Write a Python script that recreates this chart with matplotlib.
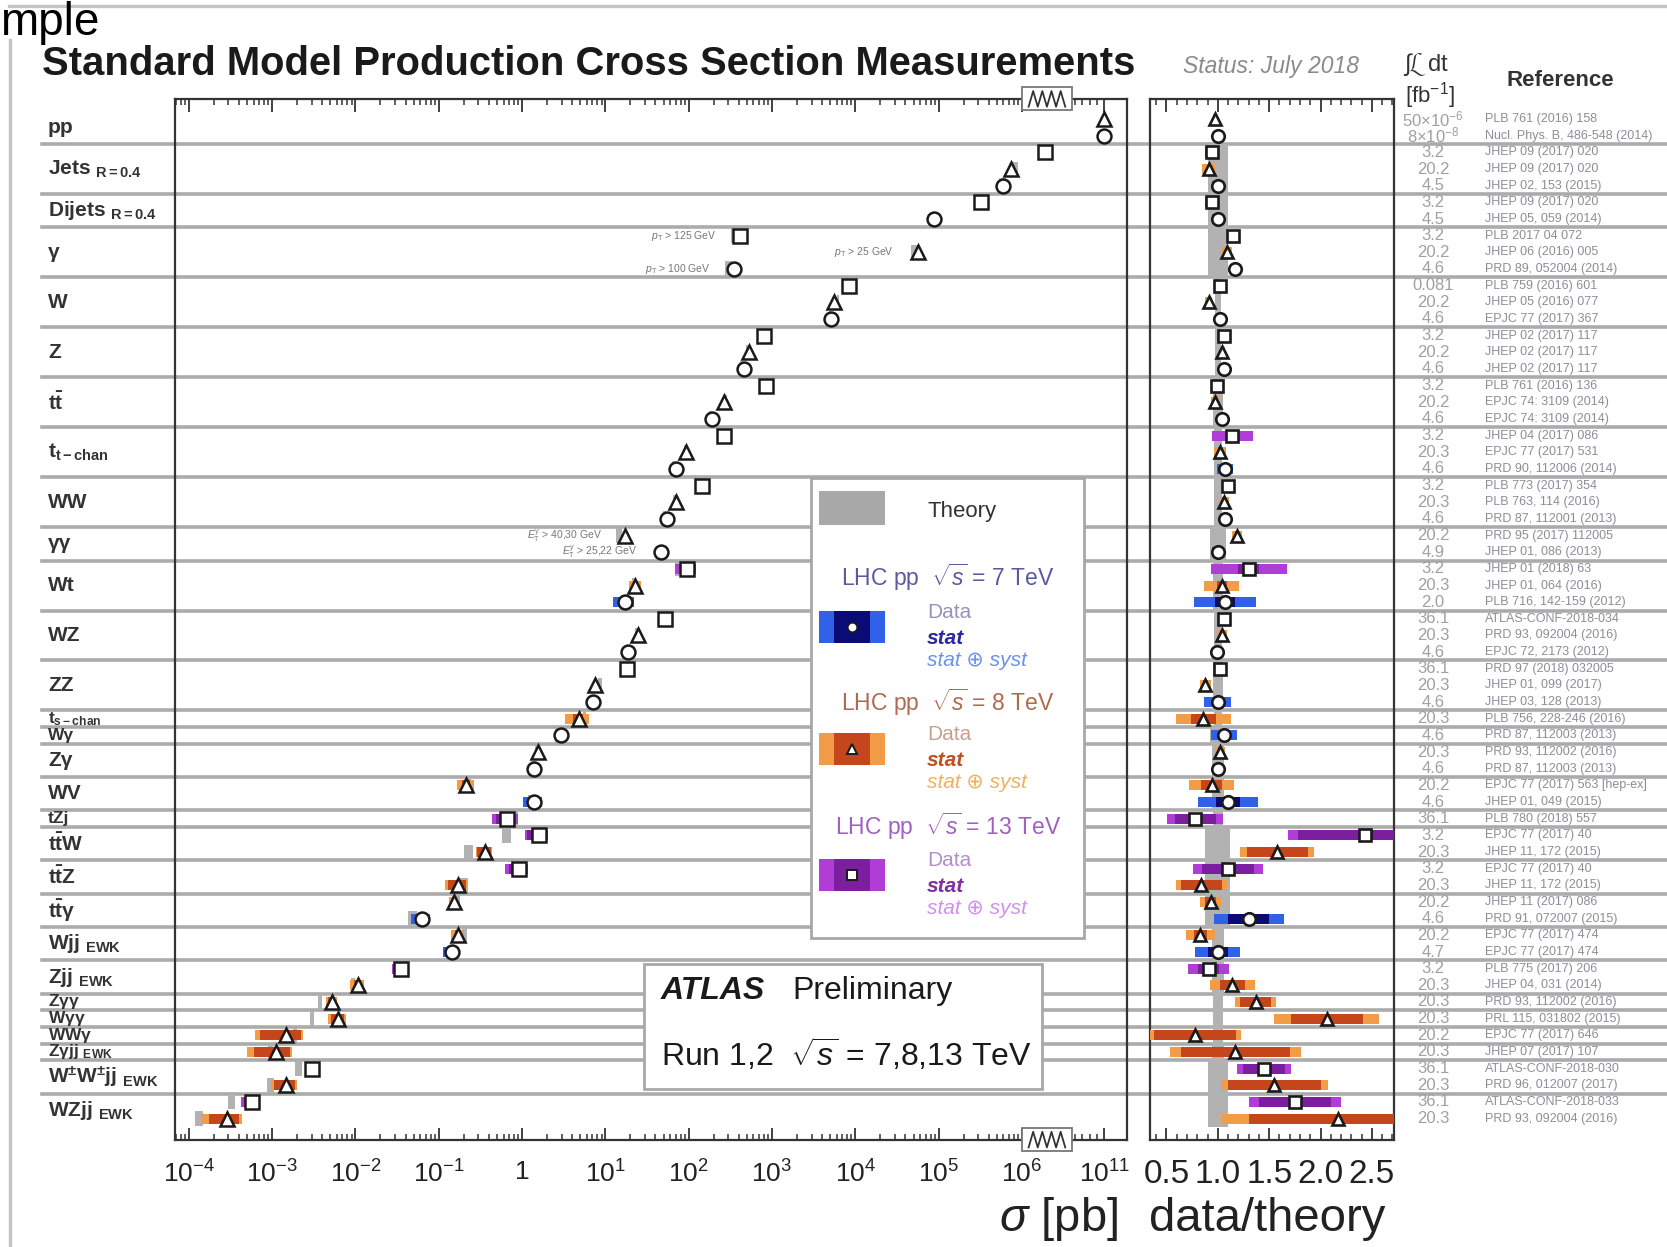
import numpy as np
import matplotlib
matplotlib.use('Agg')
import matplotlib.pyplot as plt
import matplotlib.transforms as mtrans
from matplotlib.patches import Rectangle
from matplotlib.lines import Line2D
from matplotlib.ticker import FixedLocator, FixedFormatter, MultipleLocator, FormatStrFormatter

plt.rcParams['font.family'] = ['Liberation Sans', 'DejaVu Sans']
plt.rcParams['mathtext.fontset'] = 'custom'
plt.rcParams['mathtext.rm'] = 'Liberation Sans'
plt.rcParams['mathtext.it'] = 'Liberation Sans:italic'
plt.rcParams['mathtext.bf'] = 'Liberation Sans:bold'

# processes, top to bottom, and number of measurements per process
processes = ['pp', r'Jets $_{\mathregular{R=0.4}}$', r'Dijets $_{\mathregular{R=0.4}}$', 'γ', 'W', 'Z',
             r'$\mathbf{t\bar{t}}$', r'$\mathbf{t_{t-chan}}$', 'WW', 'γγ', 'Wt', 'WZ', 'ZZ',
             r'$\mathbf{t_{s-chan}}$', 'Wγ', 'Zγ', 'WV', 'tZj', r'$\mathbf{t\bar{t}W}$',
             r'$\mathbf{t\bar{t}Z}$', r'$\mathbf{t\bar{t}\gamma}$', r'$\mathbf{Wjj}$ $_{\mathbf{EWK}}$',
             r'$\mathbf{Zjj}$ $_{\mathbf{EWK}}$', r'$\mathbf{Z\gamma\gamma}$', r'$\mathbf{W\gamma\gamma}$',
             r'$\mathbf{WW\gamma}$', r'$\mathbf{Z\gamma jj}$ $_{\mathbf{EWK}}$',
             r'$\mathbf{W^{\pm}W^{\pm}jj}$ $_{\mathbf{EWK}}$', r'$\mathbf{WZjj}$ $_{\mathbf{EWK}}$']
n_meas = [2, 3, 2, 3, 3, 3, 3, 3, 3, 2, 3, 3, 3, 1, 1, 2, 2, 1, 2, 2, 2, 2, 2, 1, 1, 1, 1, 2, 2]

# one entry per measurement: sqrt(s) in TeV, sigma in pb, data/theory and uncertainties
energy = [8, 7, 13, 8, 7, 13, 7, 13, 8, 7, 13, 8, 7, 13, 8, 7, 13, 8, 7, 13, 8, 7,
          13, 8, 7, 8, 7, 13, 8, 7, 13, 8, 7, 13, 8, 7, 8, 7, 8, 7, 8, 7, 13, 13, 8,
          13, 8, 8, 7, 8, 7, 13, 8, 8, 8, 8, 8, 13, 8, 13, 8]
xsec = [9.6e10, 9.5e10, 1.9e6, 7.4e5, 5.9e5, 3.2e5, 8.9e4, 410, 5.6e4, 355,
        8.5e3, 5.6e3, 5.1e3, 810, 525, 457, 850, 263, 190, 263, 93, 71,
        145, 71, 55, 17.4, 46, 95, 23, 17.4, 52, 24.5, 18.6, 18.2, 7.6, 7.1,
        4.8, 2.9, 1.55, 1.38, 0.214, 1.38, 0.66, 1.58, 0.36, 0.91, 0.17,
        0.151, 0.063, 0.17, 0.145, 0.0355, 0.0107, 0.0052, 0.0062, 0.00148,
        0.00112, 0.0030, 0.00148, 0.00057, 0.00029]
ratio = [0.97, 1.00, 0.94, 0.91, 1.00, 0.94, 1.00, 1.15, 1.09, 1.17,
         1.02, 0.91, 1.02, 1.06, 1.04, 1.06, 0.99, 0.97, 1.04, 1.14, 1.02, 1.07,
         1.10, 1.06, 1.07, 1.19, 1.00, 1.30, 1.04, 1.07, 1.06, 1.04, 0.99, 1.02, 0.88, 1.00,
         0.86, 1.06, 1.02, 1.00, 0.94, 1.10, 0.78, 2.43, 1.58, 1.10, 0.84,
         0.93, 1.30, 0.83, 1.00, 0.91, 1.14, 1.37, 2.06, 0.78,
         1.17, 1.45, 1.55, 1.75, 2.17]
err_tot = [0.02, 0.02, 0.06, 0.06, 0.06, 0.06, 0.06, 0.05, 0.05, 0.05,
           0.03, 0.03, 0.03, 0.03, 0.03, 0.03, 0.04, 0.04, 0.04, 0.20, 0.06, 0.08,
           0.05, 0.05, 0.05, 0.05, 0.06, 0.37, 0.17, 0.30, 0.05, 0.05, 0.05, 0.05, 0.05, 0.13,
           0.27, 0.13, 0.05, 0.05, 0.22, 0.29, 0.27, 0.75, 0.36, 0.34, 0.25,
           0.10, 0.34, 0.14, 0.22, 0.20, 0.22, 0.20, 0.51, 0.45,
           0.64, 0.26, 0.52, 0.45, 1.13]
err_stat = [0.01, 0.01, 0.01, 0.01, 0.01, 0.01, 0.01, 0.01, 0.01, 0.01,
            0.01, 0.01, 0.01, 0.01, 0.01, 0.01, 0.01, 0.01, 0.01, 0.06, 0.02, 0.03,
            0.02, 0.02, 0.02, 0.02, 0.02, 0.10, 0.05, 0.10, 0.02, 0.02, 0.02, 0.02, 0.02, 0.05,
            0.12, 0.05, 0.02, 0.02, 0.10, 0.12, 0.20, 0.65, 0.30, 0.25, 0.20,
            0.05, 0.20, 0.06, 0.10, 0.10, 0.12, 0.15, 0.35, 0.40,
            0.53, 0.20, 0.45, 0.35, 0.87]
err_theory = [0.0, 0.0, 0.10, 0.10, 0.10, 0.10, 0.10, 0.10, 0.10, 0.10,
              0.03, 0.03, 0.03, 0.03, 0.03, 0.03, 0.05, 0.05, 0.05, 0.04, 0.04, 0.04,
              0.04, 0.04, 0.04, 0.08, 0.08, 0.05, 0.05, 0.05, 0.04, 0.04, 0.04, 0.05, 0.05, 0.05,
              0.04, 0.08, 0.06, 0.06, 0.06, 0.06, 0.05, 0.12, 0.12, 0.12, 0.12,
              0.12, 0.12, 0.06, 0.06, 0.06, 0.06, 0.05, 0.05, 0.05,
              0.06, 0.10, 0.10, 0.10, 0.10]
lumi = [r'50$\times$10$^{-6}$', r'8$\times$10$^{-8}$', '3.2', '20.2', '4.5', '3.2', '4.5',
        '3.2', '20.2', '4.6', '0.081', '20.2', '4.6', '3.2', '20.2', '4.6', '3.2', '20.2', '4.6',
        '3.2', '20.3', '4.6', '3.2', '20.3', '4.6', '20.2', '4.9', '3.2', '20.3', '2.0',
        '36.1', '20.3', '4.6', '36.1', '20.3', '4.6', '20.3', '4.6', '20.3', '4.6', '20.2', '4.6',
        '36.1', '3.2', '20.3', '3.2', '20.3', '20.2', '4.6', '20.2', '4.7', '3.2', '20.3',
        '20.3', '20.3', '20.2', '20.3', '36.1', '20.3', '36.1', '20.3']
refs = ['PLB 761 (2016) 158', 'Nucl. Phys. B, 486-548 (2014)', 'JHEP 09 (2017) 020',
        'JHEP 09 (2017) 020', 'JHEP 02, 153 (2015)', 'JHEP 09 (2017) 020', 'JHEP 05, 059 (2014)',
        'PLB 2017 04 072', 'JHEP 06 (2016) 005', 'PRD 89, 052004 (2014)', 'PLB 759 (2016) 601',
        'JHEP 05 (2016) 077', 'EPJC 77 (2017) 367', 'JHEP 02 (2017) 117', 'JHEP 02 (2017) 117',
        'JHEP 02 (2017) 117', 'PLB 761 (2016) 136', 'EPJC 74: 3109 (2014)', 'EPJC 74: 3109 (2014)',
        'JHEP 04 (2017) 086', 'EPJC 77 (2017) 531', 'PRD 90, 112006 (2014)', 'PLB 773 (2017) 354',
        'PLB 763, 114 (2016)', 'PRD 87, 112001 (2013)', 'PRD 95 (2017) 112005', 'JHEP 01, 086 (2013)',
        'JHEP 01 (2018) 63', 'JHEP 01, 064 (2016)', 'PLB 716, 142-159 (2012)', 'ATLAS-CONF-2018-034',
        'PRD 93, 092004 (2016)', 'EPJC 72, 2173 (2012)', 'PRD 97 (2018) 032005', 'JHEP 01, 099 (2017)',
        'JHEP 03, 128 (2013)', 'PLB 756, 228-246 (2016)', 'PRD 87, 112003 (2013)',
        'PRD 93, 112002 (2016)', 'PRD 87, 112003 (2013)', 'EPJC 77 (2017) 563 [hep-ex]',
        'JHEP 01, 049 (2015)', 'PLB 780 (2018) 557', 'EPJC 77 (2017) 40', 'JHEP 11, 172 (2015)',
        'EPJC 77 (2017) 40', 'JHEP 11, 172 (2015)', 'JHEP 11 (2017) 086', 'PRD 91, 072007 (2015)',
        'EPJC 77 (2017) 474', 'EPJC 77 (2017) 474', 'PLB 775 (2017) 206', 'JHEP 04, 031 (2014)',
        'PRD 93, 112002 (2016)', 'PRL 115, 031802 (2015)', 'EPJC 77 (2017) 646', 'JHEP 07 (2017) 107',
        'ATLAS-CONF-2018-030', 'PRD 96, 012007 (2017)', 'ATLAS-CONF-2018-033', 'PRD 93, 092004 (2016)']

# phase-space notes written next to some points: (row, text)
cut_notes = [(7, r'$p_{\mathregular{T}}$ > 125 GeV'), (8, r'$p_{\mathregular{T}}$ > 25 GeV'),
             (9, r'$p_{\mathregular{T}}$ > 100 GeV'),
             (25, r'$E_{\mathregular{T}}^{\gamma}$ > 40,30 GeV'), (26, r'$E_{\mathregular{T}}^{\gamma}$ > 25,22 GeV')]

markers = {13: 's', 8: '^', 7: 'o'}
col_tot = {13: '#b03ed6', 8: '#f29c48', 7: '#2f62e8'}
col_stat = {13: '#7c1f9e', 8: '#c4461a', 7: '#0b0b78'}
theory_col = '#b2b2b2'

W, H = 1667, 1247
fig = plt.figure(figsize=(W / 100, H / 100), dpi=100)


def fx(px):
    return px / W


def fy(py):
    return 1 - py / H


ax = fig.add_axes([fx(175.4), fy(1139.6), fx(1126.9) - fx(175.4), fy(98.9) - fy(1139.6)])
rax = fig.add_axes([fx(1150), fy(1139.6), fx(1394) - fx(1150), fy(98.9) - fy(1139.6)])
for a in (ax, rax):
    a.patch.set_facecolor('none')
    for sp in a.spines.values():
        sp.set_color('#333333')
        sp.set_linewidth(1.6)
    a.set_yticks([])
    a.set_ylim(61.26, -1.21)

# log axis with the range above ~4e6 pb squeezed behind a break
BRK, SQZ = 6.6, 0.0886


def fwd(x):
    l = np.log10(np.clip(np.asarray(x, float), 1e-30, None))
    return np.where(l <= BRK, l, BRK + (l - BRK) * SQZ)


def inv(u):
    u = np.asarray(u, float)
    l = np.where(u <= BRK, u, BRK + (u - BRK) / SQZ)
    return 10.0 ** np.clip(l, -30, 30)


ax.set_xscale('function', functions=(fwd, inv))
ax.set_xlim(float(inv(-4.16)), float(inv(7.26)))
rax.set_xlim(0.34, 2.715)

major = [10.0 ** k for k in range(-4, 7)] + [1e11]
major_lbl = [r'10$^{\mathregular{%d}}$' % k for k in range(-4, 0)] + ['1'] + \
            [r'10$^{\mathregular{%d}}$' % k for k in range(1, 7)] + [r'10$^{\mathregular{11}}$']
minor = [m * 10.0 ** k for k in range(-5, 7) for m in range(2, 10) if np.log10(m * 10.0 ** k) < BRK]
minor += [1e7, 1e8, 1e9, 1e10]
ax.xaxis.set_major_locator(FixedLocator(major))
ax.xaxis.set_major_formatter(FixedFormatter(major_lbl))
ax.xaxis.set_minor_locator(FixedLocator(minor))
ax.xaxis.set_minor_formatter(FixedFormatter([''] * len(minor)))
ax.tick_params(axis='x', which='both', direction='in', top=True, bottom=True, colors='#333333',
               labelcolor='#222222', labelsize=19, pad=15)
ax.tick_params(axis='x', which='major', length=9, width=1.3)
ax.tick_params(axis='x', which='minor', length=4.5, width=1.1)

rax.xaxis.set_major_locator(MultipleLocator(0.5))
rax.xaxis.set_minor_locator(MultipleLocator(0.1))
rax.xaxis.set_major_formatter(FormatStrFormatter('%.1f'))
rax.tick_params(axis='x', which='both', direction='in', top=True, bottom=True, colors='#333333',
                labelcolor='#222222', labelsize=24, pad=14)
rax.tick_params(axis='x', which='major', length=9, width=1.3)
rax.tick_params(axis='x', which='minor', length=4.5, width=1.1)

# axis break marks on top and bottom of the cross-section axis
brk_tf = mtrans.blended_transform_factory(ax.transData, ax.transAxes)
for ya in (0.0, 1.0):
    ax.add_patch(Rectangle((1e6, ya - 0.011), 10 ** 6.6 - 1e6, 0.022, transform=brk_tf,
                           facecolor='white', edgecolor='#777777', lw=1.3, clip_on=False, zorder=8))
    zz = 10 ** np.linspace(6.08, 6.52, 9)
    ax.add_line(Line2D(zz, ya + 0.0075 * np.array([-1, 1, -1, 1, -1, 1, -1, 1, -1]), transform=brk_tf,
                       color='#333333', lw=1.3, clip_on=False, zorder=9))

# measurements
for i, e in enumerate(energy):
    s, r, et, es, dt = xsec[i], ratio[i], err_tot[i], err_stat[i], err_theory[i]
    th = s / r
    if dt > 0:
        ax.add_patch(Rectangle((th * (1 - dt), i - 0.45), th * 2 * dt, 0.9, color=theory_col, lw=0, zorder=2))
        rax.add_patch(Rectangle((1 - dt, i - 0.5), 2 * dt, 1.0, color=theory_col, lw=0, zorder=2))
    lo, hi = s * (1 - et / r), s * (1 + et / r)
    ax.barh(i, hi - lo, left=lo, height=0.6, color=col_tot[e], lw=0, zorder=3)
    lo, hi = s * (1 - es / r), s * (1 + es / r)
    ax.barh(i, hi - lo, left=lo, height=0.6, color=col_stat[e], lw=0, zorder=3)
    ax.plot([s], [i], marker=markers[e], ms=10, mfc='white', mec='#1a1a1a',
            mew=1.8, ls='none', zorder=5)
    rax.barh(i, 2 * et, left=r - et, height=0.6, color=col_tot[e], lw=0, zorder=3)
    rax.barh(i, 2 * es, left=r - es, height=0.6, color=col_stat[e], lw=0, zorder=3)
    rax.plot([r], [i], marker=markers[e], ms=9, mfc='white', mec='#1a1a1a',
             mew=1.9, ls='none', zorder=5, clip_on=True)

for i, txt in cut_notes:
    ax.annotate(txt, xy=(xsec[i], i), xytext=(-17, 0), textcoords='offset points', ha='right',
                va='center', fontsize=7.5, color='#777777')

# separators, process names, luminosities and references
row_tf = mtrans.blended_transform_factory(fig.transFigure, ax.transData)
ends = np.cumsum(n_meas)
starts = ends - np.array(n_meas)
for k in ends[:-1]:
    fig.add_artist(Line2D([fx(42), 1.0], [k - 0.5, k - 0.5], transform=row_tf, color='#ababab',
                          lw=2.6, zorder=-1))
for name, a, b in zip(processes, starts, ends):
    # single-measurement bands are narrow, so their names are set a little smaller
    fs = 15 if b - a > 1 else 12.5
    fig.text(fx(48), (a + b - 1) / 2, name, transform=row_tf, fontsize=fs, fontweight='bold',
             color='#333333', ha='left', va='center')
for i in range(len(energy)):
    fig.text(fx(1433), i, lumi[i], transform=row_tf, fontsize=12, color='#a0a0a0', ha='center', va='center')
    fig.text(fx(1485), i, refs[i], transform=row_tf, fontsize=9, color='#8d8d9a', ha='left', va='center')

# header texts
fig.text(0, fy(35), 'mple', fontsize=33, ha='left', va='baseline', color='black')
fig.add_artist(Line2D([fx(9), 1.0], [fy(6), fy(6)], transform=fig.transFigure, color='#c4c4c4', lw=2.4))
fig.add_artist(Line2D([fx(10), fx(10)], [fy(40), 0], transform=fig.transFigure, color='#c4c4c4', lw=2.4))
fig.text(fx(42), fy(64), 'Standard Model Production Cross Section Measurements', fontsize=28.8,
         fontweight='bold', color='#1a1a1a', ha='left', va='center')
fig.text(fx(1183), fy(66), 'Status: July 2018', fontsize=16.5, fontstyle='italic', color='#8a8a8a',
         ha='left', va='center')
fig.text(fx(1403), fy(64), r'$\int\mathcal{L}$ dt', fontsize=17, color='#333333', ha='left', va='center')
fig.text(fx(1405), fy(96), r'[fb$^{-1}$]', fontsize=16, color='#333333', ha='left', va='center')
fig.text(fx(1560), fy(81), 'Reference', fontsize=16, fontweight='bold', color='#333333',
         ha='center', va='center')
fig.text(fx(1118), fy(1219), r'$\sigma$ [pb]', fontsize=34, color='#222222', ha='right', va='center')
fig.text(fx(1385), fy(1219), 'data/theory', fontsize=34, color='#222222', ha='right', va='center')

# legend box
fig.add_artist(Rectangle((fx(811), fy(938)), fx(1084) - fx(811), fy(478) - fy(938), transform=fig.transFigure,
                         facecolor='white', edgecolor='#a8a8a8', lw=2, zorder=3))
fig.add_artist(Rectangle((fx(819), fy(525)), fx(885) - fx(819), fy(491) - fy(525), transform=fig.transFigure,
                         facecolor='#a8a8a8', lw=0, zorder=4))
fig.text(fx(927), fy(511), 'Theory', fontsize=16, color='#333333', ha='left', va='center', zorder=5)

legend_rows = [(7, 577, 627, '#5a5aa0', '#9494b8', '#2828a0', '#6a90f0'),
               (8, 702, 749, '#b06a50', '#c8a090', '#c05020', '#f0b060'),
               (13, 826, 875, '#a060c0', '#b090c8', '#8030a0', '#d090f0')]
for e, yh, yp, c_head, c_data, c_stat, c_syst in legend_rows:
    fig.text(fx(948), fy(yh), r'LHC pp  $\sqrt{s}$ = %d TeV' % e, fontsize=16.5, color=c_head,
             ha='center', va='center', zorder=5)
    fig.add_artist(Rectangle((fx(819), fy(yp + 16)), fx(885) - fx(819), fy(yp - 16) - fy(yp + 16),
                             transform=fig.transFigure, facecolor=col_tot[e], lw=0, zorder=4))
    fig.add_artist(Rectangle((fx(834), fy(yp + 16)), fx(870) - fx(834), fy(yp - 16) - fy(yp + 16),
                             transform=fig.transFigure, facecolor=col_stat[e], lw=0, zorder=4))
    fig.add_artist(Line2D([fx(852)], [fy(yp)], transform=fig.transFigure, marker=markers[e], ms=7,
                          mfc='white', mec='#1a1a1a', mew=1.4, zorder=6))
    fig.text(fx(927), fy(yp - 14), 'Data', fontsize=15, color=c_data, ha='left', va='center', zorder=5)
    fig.text(fx(927), fy(yp + 11), 'stat', fontsize=15, fontweight='bold', fontstyle='italic',
             color=c_stat, ha='left', va='center', zorder=5)
    fig.text(fx(927), fy(yp + 34), 'stat ⊕ syst', fontsize=15, fontstyle='italic', color=c_syst,
             ha='left', va='center', zorder=5)

# experiment label box
fig.add_artist(Rectangle((fx(644), fy(1089)), fx(1042) - fx(644), fy(964) - fy(1089), transform=fig.transFigure,
                         facecolor='white', edgecolor='#a8a8a8', lw=2, zorder=3))
fig.text(fx(661), fy(991), 'ATLAS', fontsize=23, fontweight='bold', fontstyle='italic', color='#1a1a1a',
         ha='left', va='center', zorder=5)
fig.text(fx(792), fy(991), 'Preliminary', fontsize=23, color='#1a1a1a', ha='left', va='center', zorder=5)
fig.text(fx(661), fy(1055), r'Run 1,2  $\sqrt{s}$ = 7,8,13 TeV', fontsize=23, color='#1a1a1a',
         ha='left', va='center', zorder=5)

fig.savefig('out.png', dpi=100)
